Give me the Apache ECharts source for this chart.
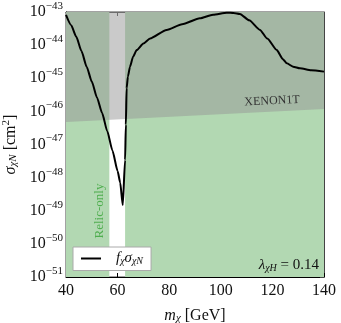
<!DOCTYPE html>
<html>
<head>
    <meta charset="utf-8" />
    <title>sigma chi N</title>
    <script src="https://cdn.jsdelivr.net/npm/echarts@6/dist/echarts.min.js"></script>
</head>
<body style="margin:0;background:#fff;">
    <div id="main" style="width:341px;height:323px;"></div>
    <script type="text/javascript">
        // m_chi [GeV] and log10 of f_chi * sigma_chiN [cm^2]
        var mass = [40, 42, 44, 46, 48, 50, 52, 54, 56, 58, 60, 61, 62,
            62.9, 63.2, 63.5, 64, 64.8, 66, 67.4, 70, 72.6, 79, 85, 91.9, 97,
            102.3, 105, 107.4, 111, 115.2, 118, 121.7, 124, 125.6, 128, 130.7, 135, 140];
        var logSigma = [-43.09, -43.40, -43.75, -44.18, -44.65, -45.10, -45.58, -46.05, -46.60, -47.18, -47.80, -48.15, -48.83,
            -47.47, -46.40, -45.30, -44.95, -44.65, -44.35, -44.15, -43.95, -43.80, -43.54, -43.37, -43.19, -43.08,
            -43.02, -43.03, -43.06, -43.25, -43.54, -43.80, -44.15, -44.42, -44.55, -44.65, -44.70, -44.76, -44.80];
        // XENON1T bound (log10 cm^2)
        var xenonMass = [40, 140];
        var xenonLog = [-46.32, -45.93];
        // relic-only window (white / light grey band)
        var relicBand = [56.8, 62.9];
        var xTicks = [40, 60, 80, 100, 120, 140];
        var yExpMin = -51, yExpMax = -43;

        var serif = '"Liberation Serif", "DejaVu Serif", serif';
        var chart = echarts.init(document.getElementById('main'));

        var curve = mass.map(function (m, i) { return [m, logSigma[i]]; });
        var xenon = xenonMass.map(function (m, i) { return [m, xenonLog[i]]; });

        var option = {
            animation: false,
            grid: {
                left: 66, right: 17, top: 12, bottom: 46, show: true, borderColor: '#444', borderWidth: 1,
                outerBoundsMode: 'none', containLabel: false
            },
            xAxis: [{
                type: 'value', min: xTicks[0], max: xTicks[xTicks.length - 1], interval: 20,
                axisLine: { lineStyle: { color: '#000' } },
                axisTick: { inside: true, length: 4, lineStyle: { color: '#000' } },
                axisLabel: { fontFamily: serif, fontSize: 16, color: '#111', margin: 6 },
                splitLine: { show: false },
                name: '{i|m}{s|χ} [GeV]', nameLocation: 'middle', nameGap: 30,
                nameTextStyle: {
                    fontFamily: serif, fontSize: 16, color: '#111',
                    rich: {
                        i: { fontFamily: serif, fontSize: 16, fontStyle: 'italic', color: '#111' },
                        s: { fontFamily: serif, fontSize: 11, fontStyle: 'italic', color: '#111', padding: [6, 0, 0, 0] }
                    }
                }
            }, {
                type: 'value', position: 'top', min: 40, max: 140, interval: 20,
                axisLine: { lineStyle: { color: '#444' } },
                axisTick: { inside: true, length: 4, lineStyle: { color: '#444' } },
                axisLabel: { show: false }, splitLine: { show: false }
            }],
            yAxis: [{
                type: 'value', min: yExpMin, max: yExpMax, interval: 1,
                axisLine: { show: true, lineStyle: { color: '#000' } },
                axisTick: { inside: true, length: 4, lineStyle: { color: '#000' } },
                splitLine: { show: false },
                axisLabel: {
                    margin: 3, color: '#111',
                    formatter: function (v) {
                        return '{b|10}{e|−' + Math.abs(Math.round(v)) + '}';
                    },
                    rich: {
                        b: { fontFamily: serif, fontSize: 16, color: '#111' },
                        e: { fontFamily: serif, fontSize: 11, color: '#111', padding: [0, 0, 12, 0] }
                    }
                },
                name: '{i|σ}{s|χN} [cm{p|2}]', nameLocation: 'middle', nameGap: 45, nameRotate: 90,
                nameTextStyle: {
                    fontFamily: serif, fontSize: 16, color: '#111',
                    rich: {
                        i: { fontFamily: serif, fontSize: 16, fontStyle: 'italic', color: '#111' },
                        s: { fontFamily: serif, fontSize: 11, fontStyle: 'italic', color: '#111', padding: [6, 0, 0, 0] },
                        p: { fontFamily: serif, fontSize: 11, color: '#111', padding: [0, 0, 8, 0] }
                    }
                }
            }, {
                type: 'value', position: 'right', min: yExpMin, max: yExpMax, interval: 1,
                axisLine: { show: true, lineStyle: { color: '#444' } },
                axisTick: { inside: true, length: 4, lineStyle: { color: '#444' } },
                axisLabel: { show: false }, splitLine: { show: false }
            }],
            legend: {
                left: 73, top: 247,
                padding: [4, 8, 4, 8],
                backgroundColor: '#fff', borderColor: '#aaa', borderWidth: 1, borderRadius: 0,
                itemWidth: 20, itemHeight: 2, itemGap: 4,
                icon: 'rect',
                data: [{ name: 'curve', itemStyle: { color: '#000' } }],
                formatter: function () { return '{i|f}{s|χ}{i|σ}{s|χN}'; },
                textStyle: {
                    padding: [0, 0, 0, 10],
                    rich: {
                        i: { fontFamily: serif, fontSize: 15, fontStyle: 'italic', color: '#111' },
                        s: { fontFamily: serif, fontSize: 10, fontStyle: 'italic', color: '#111', padding: [6, 0, 0, 0] }
                    }
                }
            },
            graphic: [{
                type: 'text', x: 272, y: 101, rotation: 0.05, z: 10,
                style: { text: 'XENON1T', font: '12px ' + serif, fill: '#333', align: 'center', verticalAlign: 'middle' }
            }, {
                type: 'text', x: 100, y: 211, rotation: Math.PI / 2, z: 10,
                style: { text: 'Relic-only', font: '13px ' + serif, fill: '#4fae4f', align: 'center', verticalAlign: 'middle' }
            }, {
                type: 'text', x: 319, y: 265, z: 10,
                style: {
                    text: '{i|λ}{s|χH}{n| = 0.14}', align: 'right', verticalAlign: 'middle',
                    rich: {
                        i: { font: 'italic 15px ' + serif, fill: '#111' },
                        s: { font: 'italic 10px ' + serif, fill: '#111', padding: [6, 0, 0, 0] },
                        n: { font: '15px ' + serif, fill: '#111' }
                    }
                }
            }],
            series: [{
                name: 'green', type: 'line', data: [], z: 1, silent: true,
                markArea: {
                    silent: true,
                    itemStyle: { color: 'rgb(178,216,178)' },
                    data: [
                        [{ xAxis: xTicks[0] }, { xAxis: relicBand[0] }],
                        [{ xAxis: relicBand[1] }, { xAxis: xTicks[xTicks.length - 1] }]
                    ]
                }
            }, {
                name: 'xenon', type: 'line', data: xenon, z: 2, silent: true,
                symbol: 'none', lineStyle: { width: 0 },
                areaStyle: { origin: 'end', color: 'rgba(150,150,150,0.5)', opacity: 1 }
            }, {
                name: 'curve', type: 'line', data: curve, z: 3,
                symbol: 'none', smooth: 0.2, smoothMonotone: 'x',
                lineStyle: { color: '#000', width: 2 },
                itemStyle: { color: '#000' }
            }]
        };
        chart.setOption(option);
    </script>
</body>
</html>
